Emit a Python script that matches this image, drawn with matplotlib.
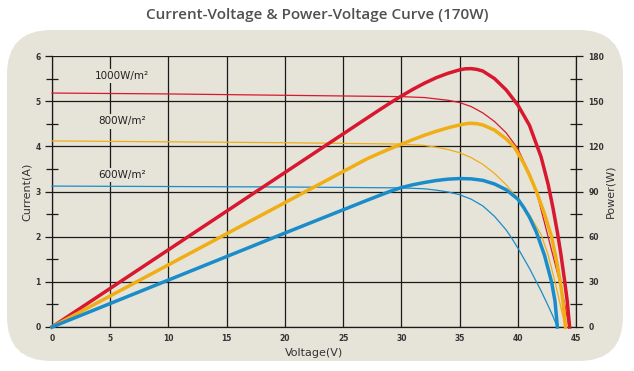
import numpy as np
import matplotlib
matplotlib.use("Agg")
import matplotlib.pyplot as plt
from matplotlib.patches import FancyBboxPatch
from matplotlib.ticker import MultipleLocator

# I-V curves (thin lines), current in A
v_i1000 = [0, 10, 20, 30, 32, 33, 34, 35, 36, 37, 38, 39, 40, 41, 41.6, 42.1, 42.6, 43.1, 43.6, 44, 44.4]
i_1000 = [5.18, 5.16, 5.13, 5.1, 5.08, 5.05, 5.02, 4.97, 4.88, 4.74, 4.55, 4.3, 3.95, 3.4, 3.0, 2.5, 2.0, 1.5, 1.0, 0.55, 0]
v_i800 = [0, 10, 20, 30, 32, 33, 34, 35, 36, 37, 38, 39, 40, 41, 42, 42.6, 43.2, 43.6, 44.1]
i_800 = [4.12, 4.1, 4.08, 4.05, 4.02, 3.98, 3.93, 3.86, 3.75, 3.6, 3.4, 3.15, 2.85, 2.48, 2.05, 1.6, 1.0, 0.55, 0]
v_i600 = [0, 10, 20, 30, 32, 33, 34, 35, 36, 37, 38, 39, 39.5, 40, 41, 41.6, 42, 42.5, 43, 43.4]
i_600 = [3.12, 3.11, 3.1, 3.08, 3.06, 3.03, 2.99, 2.93, 2.83, 2.68, 2.45, 2.15, 1.96, 1.75, 1.3, 1.0, 0.8, 0.53, 0.25, 0]

# P-V curves (thick lines), power in W
v_p1000 = [0, 10, 20, 27, 28, 29, 30, 31, 32, 33, 34, 35, 35.5, 36, 36.5, 37, 38, 39, 40,
           41, 42, 42.6, 43, 43.4, 43.7, 44, 44.25, 44.45]
p_1000 = [0, 51.3, 102.6, 138.5, 143.6, 148.6, 153.4, 157.9, 162, 165.6, 168.5, 170.8, 171.5, 171.6, 171.1,
          170, 165, 157.5, 147.5, 134, 113, 95, 80, 63, 48.5, 32, 17, 0]
v_p800 = [0, 10, 20, 27, 28, 29, 30, 31, 32, 33, 34, 35, 35.7, 36, 36.5, 37, 38, 39, 39.7,
          40.5, 41, 41.6, 42.3, 42.9, 43.3, 43.65, 43.9, 44.1]
p_800 = [0, 41.3, 82.6, 111.5, 115, 118.3, 121.4, 124.5, 127.4, 130, 132.3, 134.2, 135.2, 135.3, 135,
         134.2, 130.8, 125, 119.5, 109, 101, 90, 75, 60, 45, 30, 16, 0]
v_p600 = [0, 10, 20, 27, 28, 29, 30, 31, 32, 33, 34, 35, 36, 37, 38, 39, 40, 40.5, 41, 41.6,
          42.3, 42.9, 43.2, 43.4]
p_600 = [0, 31.2, 62.4, 84, 87, 90, 92.6, 94.5, 96, 97.3, 98.2, 98.6, 98.4, 97.4, 95, 91.2, 85,
         79.5, 73, 63, 47.5, 30, 17, 0]

irr_labels = ["1000W/m\u00b2", "800W/m\u00b2", "600W/m\u00b2"]
label_y = [5.55, 4.55, 3.37]

red = "#d8182f"
yellow = "#f0ae14"
blue = "#1a8cc9"
panel = "#e6e3d9"
ink = "#1a1a1a"

fig = plt.figure(figsize=(6.34, 3.71), dpi=100)
fig.patch.set_facecolor("white")

bg = FancyBboxPatch((7 / 634, 1 - 361 / 371), 616 / 634, 331 / 371,
                    boxstyle="round,pad=0,rounding_size=0.07",
                    transform=fig.transFigure, facecolor=panel, edgecolor="none",
                    mutation_aspect=634 / 371, zorder=-5)
fig.patches.append(bg)

fig.text(0.5, 1 - 15 / 371, "Current-Voltage & Power-Voltage Curve (170W)",
         ha="center", va="center", fontsize=11, fontweight="semibold",
         color="#505050", family="Open Sans")

ax = fig.add_axes([52 / 634, 1 - 327 / 371, 524 / 634, 271 / 371])
ax.set_facecolor("none")
ax2 = ax.twinx()
ax2.set_facecolor("none")

ax.set_xlim(0, 45)
ax.set_ylim(0, 6)
ax2.set_ylim(0, 180)

ax.xaxis.set_major_locator(MultipleLocator(5))
ax.yaxis.set_major_locator(MultipleLocator(1))
ax.yaxis.set_minor_locator(MultipleLocator(0.5))
ax2.yaxis.set_major_locator(MultipleLocator(30))
ax2.yaxis.set_minor_locator(MultipleLocator(15))

ax.grid(True, which="major", color=ink, linewidth=0.9, zorder=1)
for s in ["left", "right", "bottom", "top"]:
    ax.spines[s].set_color(ink)
    ax.spines[s].set_linewidth(0.9)
    ax2.spines[s].set_visible(False)
ax.spines["top"].set_visible(False)
ax.spines["right"].set_visible(False)
ax2.spines["right"].set_visible(True)
ax2.spines["right"].set_color(ink)
ax2.spines["right"].set_linewidth(0.9)

ax.tick_params(axis="y", which="major", direction="out", length=5, width=0.9,
               color=ink, labelsize=5.5, pad=3)
ax.tick_params(axis="y", which="minor", direction="inout", length=9, width=0.9, color=ink)
ax.tick_params(axis="x", which="major", length=0, labelsize=5.5, pad=5)
ax2.tick_params(axis="y", which="major", direction="out", length=5, width=0.9,
                color=ink, labelsize=5.5, pad=4)
ax2.tick_params(axis="y", which="minor", direction="inout", length=9, width=0.9, color=ink)
for lab in ax.get_xticklabels() + ax.get_yticklabels() + ax2.get_yticklabels():
    lab.set_fontweight("bold")
    lab.set_color("#333333")

ax.set_xlabel("Voltage(V)", fontsize=8, color="#333333", labelpad=4)
ax.set_ylabel("Current(A)", fontsize=8, color="#333333", labelpad=3)
ax2.set_ylabel("Power(W)", fontsize=8, color="#333333", labelpad=1)

# thin I-V curves
ax.plot(v_i1000, i_1000, color=red, linewidth=0.9, zorder=3, clip_on=False)
ax.plot(v_i800, i_800, color=yellow, linewidth=0.9, zorder=3, clip_on=False)
ax.plot(v_i600, i_600, color=blue, linewidth=0.9, zorder=3, clip_on=False)

# thick P-V curves
ax2.plot(v_p1000, p_1000, color=red, linewidth=2.5, zorder=4, clip_on=False)
ax2.plot(v_p800, p_800, color=yellow, linewidth=2.5, zorder=4, clip_on=False)
ax2.plot(v_p600, p_600, color=blue, linewidth=2.5, zorder=4, clip_on=False)

for txt, yy in zip(irr_labels, label_y):
    ax.text(6.0, yy, txt, ha="center", va="center", fontsize=7.5, color="#222222",
            bbox=dict(facecolor=panel, edgecolor="none", pad=1.5), zorder=2)

fig.savefig("out.png", dpi=100, facecolor="white")
